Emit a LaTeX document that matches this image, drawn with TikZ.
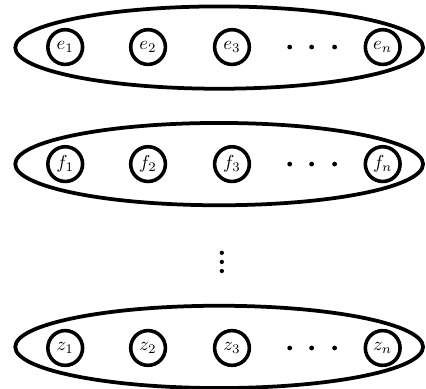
\documentclass[tikz,border=0pt]{standalone}
\usepackage{amsmath}
\usetikzlibrary{shapes.geometric}

\begin{document}
\begin{tikzpicture}[
  font=\normalsize,
  grp/.style={draw, ellipse, line width=2pt, inner sep=0pt,
              minimum width=7.63cm, minimum height=1.54cm},
  var/.style={draw, circle, line width=1.9pt, inner sep=0pt,
              minimum size=0.65cm},
  dot/.style={fill, circle, inner sep=0pt, minimum size=0.09cm},
]
\useasboundingbox (0,0) rectangle (7.97,-7.26);

% first set
\node[grp] (E) at (4.10,-0.89) {};
\node[var] (e1) at (1.22,-0.88) {$e_1$};
\node[var] (e2) at (2.77,-0.88) {$e_2$};
\node[var] (e3) at (4.34,-0.88) {$e_3$};
\node[var] (en) at (7.16,-0.88) {$e_n$};

% second set
\node[grp] (F) at (4.10,-3.07) {};
\node[var] (f1) at (1.22,-3.07) {$f_1$};
\node[var] (f2) at (2.77,-3.07) {$f_2$};
\node[var] (f3) at (4.34,-3.07) {$f_3$};
\node[var] (fn) at (7.16,-3.07) {$f_n$};

% last set
\node[grp] (Z) at (4.10,-6.49) {};
\node[var] (z1) at (1.22,-6.51) {$z_1$};
\node[var] (z2) at (2.77,-6.51) {$z_2$};
\node[var] (z3) at (4.34,-6.51) {$z_3$};
\node[var] (zn) at (7.16,-6.51) {$z_n$};

% dots
\foreach \r/\y in {e/-0.88, f/-3.07, z/-6.51}
  \foreach \i/\x in {1/5.42, 2/5.83, 3/6.26}
    \node[dot] (\r d\i) at (\x,\y) {};
\foreach \i/\y in {1/-4.73, 2/-4.90, 3/-5.07}
  \node[dot, minimum size=0.08cm] (vd\i) at (4.15,\y) {};

\end{tikzpicture}
\end{document}
